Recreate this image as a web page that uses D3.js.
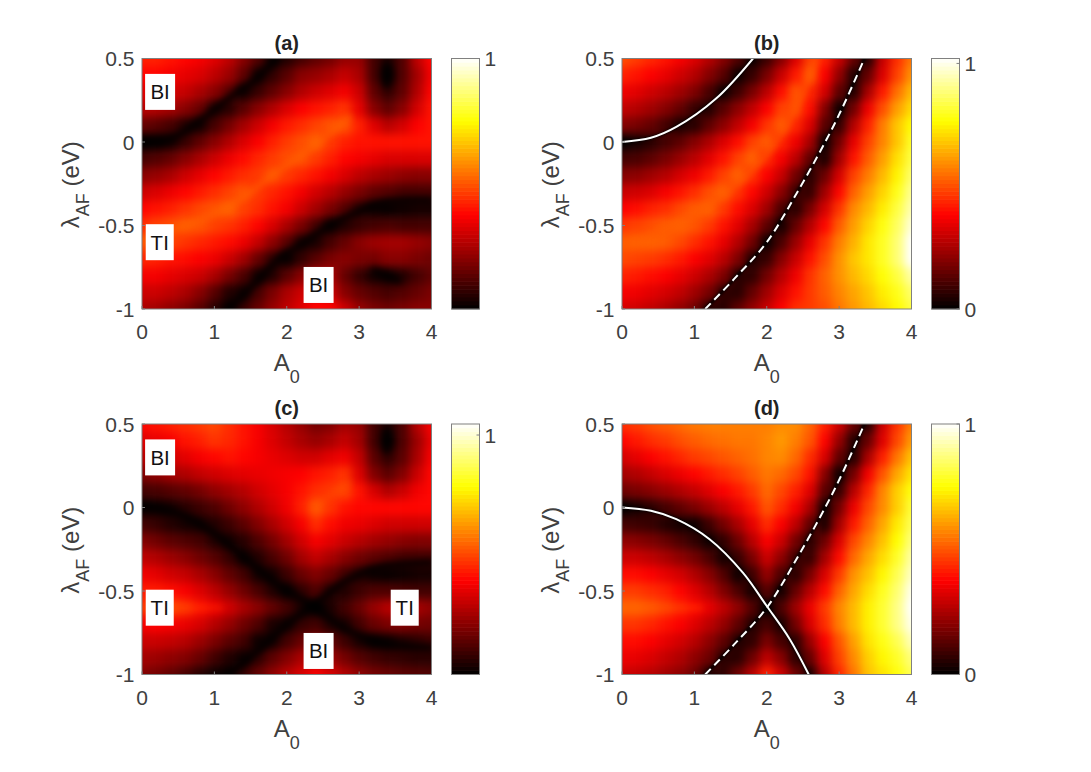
<!DOCTYPE html>
<html><head><meta charset="utf-8">
<script src="https://cdn.jsdelivr.net/npm/d3@7"></script>
<style>html,body{margin:0;padding:0;background:#fff}svg{display:block}text{font-family:"Liberation Sans",Arial,sans-serif;fill:#404040}</style>
</head><body><svg id="c" width="1091" height="772"></svg>
<script>
const amplitudes=[0,.2,.4,.6,.8,1,1.2,1.4,1.6,1.8,2,2.2,2.4,2.6,2.8,3,3.2,3.4,3.6,3.8,4];
const lambdas=[.5,.4,.3,.2,.1,0,-.1,-.2,-.3,-.4,-.5,-.6,-.7,-.8,-.9,-1];
const xTicks=[0,1,2,3,4];
const yTicks=[.5,0,-.5,-1];
const yTickLabels=["0.5","0","-0.5","-1"];
const gridA=[
[.42,.42,.40,.38,.36,.33,.28,.2,.12,.02,.05,.1,.14,.17,.22,.22,.1,.04,.12,.28,.38],
[.38,.38,.36,.34,.32,.28,.23,.14,.03,.07,.13,.2,.22,.25,.29,.25,.1,0,.12,.24,.36],
[.33,.33,.31,.29,.25,.2,.13,.03,.08,.14,.2,.26,.3,.33,.36,.3,.14,.07,.14,.26,.38],
[.27,.26,.24,.2,.15,.05,.06,.13,.2,.26,.32,.37,.4,.42,.45,.34,.2,.14,.2,.31,.4],
[.15,.13,.1,.05,.03,.1,.17,.24,.3,.36,.41,.44,.47,.5,.5,.42,.33,.27,.31,.37,.4],
[0,.01,.03,.08,.14,.2,.26,.32,.37,.42,.46,.49,.52,.46,.42,.4,.4,.4,.4,.4,.4],
[.1,.12,.15,.2,.25,.3,.35,.39,.43,.46,.49,.5,.46,.42,.38,.36,.34,.32,.32,.32,.32],
[.2,.22,.25,.3,.34,.38,.41,.44,.46,.5,.46,.43,.4,.36,.32,.28,.25,.23,.21,.2,.2],
[.3,.32,.35,.38,.41,.44,.47,.5,.46,.43,.4,.36,.31,.27,.22,.18,.14,.12,.1,.1,.1],
[.38,.4,.42,.45,.48,.5,.52,.47,.44,.4,.36,.3,.24,.18,.12,.06,.02,.01,.02,.03,.03],
[.44,.47,.49,.51,.5,.47,.45,.42,.38,.32,.25,.18,.1,.02,.05,.08,.1,.11,.1,.1,.1],
[.5,.5,.47,.45,.43,.41,.39,.35,.29,.21,.13,.04,.04,.1,.15,.2,.23,.24,.24,.22,.2],
[.43,.42,.4,.39,.37,.35,.3,.24,.15,.07,.01,.07,.13,.18,.2,.18,.17,.2,.2,.18,.16],
[.36,.36,.34,.32,.3,.25,.18,.11,.03,.05,.13,.2,.26,.25,.15,.08,.03,.02,.05,.1,.14],
[.3,.3,.28,.25,.2,.13,.05,.03,.1,.18,.25,.3,.34,.3,.2,.15,.12,.1,.12,.15,.18],
[.25,.24,.21,.18,.13,.06,.01,.08,.15,.22,.28,.33,.38,.38,.3,.22,.18,.16,.18,.2,.2]];
const gridB=[
[.5,.47,.44,.41,.37,.33,.27,.2,.12,.02,.09,.2,.33,.48,.43,.3,.15,.05,.3,.45,.56],
[.43,.41,.38,.35,.31,.27,.2,.13,.02,.08,.18,.3,.42,.52,.38,.22,.05,.15,.33,.48,.6],
[.36,.34,.31,.28,.24,.19,.11,.02,.09,.18,.28,.4,.51,.44,.32,.14,.05,.25,.42,.55,.66],
[.29,.27,.24,.2,.15,.08,.05,.13,.21,.29,.38,.48,.5,.4,.2,.02,.17,.36,.5,.62,.71],
[.2,.18,.15,.1,.04,.06,.14,.21,.29,.37,.46,.52,.44,.33,.13,.07,.27,.43,.57,.68,.76],
[0,.03,.06,.1,.14,.2,.26,.33,.4,.48,.52,.44,.36,.25,.02,.17,.35,.48,.58,.68,.8],
[.1,.11,.14,.18,.23,.28,.34,.41,.48,.53,.45,.37,.28,.14,.04,.24,.41,.52,.62,.72,.83],
[.2,.21,.24,.27,.32,.36,.42,.48,.53,.46,.38,.3,.17,.06,.16,.32,.48,.57,.66,.75,.87],
[.3,.31,.33,.37,.41,.45,.5,.53,.46,.39,.31,.21,.09,.08,.24,.39,.53,.62,.7,.79,.91],
[.38,.4,.43,.45,.49,.52,.53,.47,.4,.33,.24,.11,.06,.18,.32,.46,.59,.66,.74,.83,.94],
[.46,.48,.5,.52,.53,.51,.47,.41,.34,.25,.14,.03,.15,.27,.39,.52,.62,.7,.78,.86,.98],
[.52,.53,.53,.52,.49,.45,.41,.35,.27,.17,.02,.11,.23,.35,.46,.57,.65,.73,.8,.88,1.02],
[.49,.48,.47,.45,.42,.38,.34,.28,.19,.05,.08,.2,.3,.41,.5,.6,.68,.73,.8,.88,1.02],
[.43,.42,.4,.38,.35,.31,.26,.19,.06,.07,.17,.27,.36,.46,.53,.6,.66,.71,.77,.83,.93],
[.37,.36,.34,.32,.29,.24,.18,.07,.06,.15,.24,.33,.41,.47,.52,.58,.63,.68,.74,.79,.87],
[.32,.31,.29,.26,.22,.17,.06,.06,.14,.22,.3,.38,.45,.47,.5,.56,.61,.66,.71,.76,.83]];
const gridC=[
[.4,.42,.44,.46,.48,.5,.46,.42,.38,.33,.28,.23,.18,.2,.25,.23,.1,.04,.12,.28,.38],
[.34,.36,.38,.42,.44,.47,.45,.42,.38,.34,.3,.26,.23,.26,.3,.25,.1,0,.12,.24,.36],
[.28,.3,.32,.35,.38,.4,.42,.4,.38,.36,.34,.32,.32,.35,.37,.3,.14,.07,.14,.26,.38],
[.2,.22,.25,.27,.3,.32,.34,.35,.36,.37,.38,.39,.42,.44,.47,.34,.2,.14,.2,.31,.4],
[.1,.11,.13,.15,.18,.22,.25,.28,.32,.35,.38,.42,.46,.48,.5,.42,.33,.27,.31,.37,.4],
[.01,.02,.03,.06,.09,.12,.17,.22,.27,.32,.37,.44,.53,.47,.42,.4,.4,.4,.4,.4,.4],
[.1,.08,.05,.03,.03,.05,.09,.14,.2,.26,.32,.38,.46,.41,.37,.36,.34,.32,.32,.32,.32],
[.2,.17,.14,.12,.1,.05,.03,.06,.12,.18,.25,.32,.38,.35,.31,.28,.25,.23,.21,.2,.2],
[.29,.27,.24,.21,.17,.13,.08,.02,.05,.11,.17,.25,.3,.26,.21,.17,.14,.12,.1,.1,.1],
[.37,.35,.32,.3,.26,.21,.15,.1,.03,.03,.09,.16,.2,.16,.1,.06,.02,.01,.02,.03,.03],
[.43,.43,.41,.38,.34,.29,.23,.17,.11,.05,.01,.07,.12,.06,.05,.09,.12,.12,.11,.1,.1],
[.47,.49,.5,.47,.42,.37,.32,.26,.21,.15,.1,.04,0,.04,.1,.16,.23,.28,.28,.25,.22],
[.38,.39,.38,.36,.33,.28,.23,.17,.12,.04,.03,.08,.1,.05,.04,.1,.16,.19,.2,.18,.17],
[.31,.31,.3,.28,.24,.19,.14,.1,.02,.03,.1,.16,.2,.15,.09,.04,.01,.02,.05,.07,.09],
[.25,.24,.22,.2,.16,.1,.05,.02,.07,.14,.2,.26,.29,.24,.18,.13,.1,.08,.07,.06,.06],
[.2,.18,.15,.11,.06,.02,.01,.08,.15,.22,.28,.33,.38,.33,.27,.22,.18,.16,.14,.13,.12]];
const gridD=[
[.44,.46,.49,.51,.53,.55,.56,.56,.56,.56,.56,.58,.58,.52,.42,.3,.15,.05,.3,.45,.56],
[.38,.41,.44,.46,.49,.51,.53,.54,.55,.55,.57,.6,.56,.5,.38,.22,.05,.15,.33,.48,.6],
[.31,.34,.37,.4,.43,.46,.48,.5,.52,.54,.57,.58,.53,.44,.32,.14,.05,.25,.42,.55,.66],
[.24,.26,.29,.32,.35,.38,.41,.44,.47,.51,.55,.53,.48,.4,.2,.02,.17,.36,.5,.62,.71],
[.16,.18,.2,.23,.26,.29,.33,.37,.41,.46,.53,.48,.42,.33,.13,.07,.27,.43,.57,.68,.76],
[0,.03,.06,.1,.14,.18,.23,.28,.34,.41,.5,.44,.36,.25,.02,.17,.35,.48,.58,.68,.8],
[.1,.09,.08,.05,.03,.02,.09,.17,.25,.34,.44,.37,.28,.14,.04,.24,.41,.52,.62,.72,.83],
[.21,.2,.18,.15,.11,.07,.02,.07,.16,.27,.37,.3,.17,.06,.16,.32,.48,.57,.66,.75,.87],
[.3,.3,.28,.25,.21,.17,.11,.03,.08,.18,.3,.21,.09,.08,.24,.39,.53,.62,.7,.79,.91],
[.39,.39,.37,.34,.31,.26,.2,.12,.02,.09,.22,.11,.06,.18,.32,.46,.59,.66,.74,.83,.94],
[.46,.46,.44,.42,.38,.33,.27,.19,.11,.03,.13,.03,.15,.27,.39,.52,.62,.7,.78,.86,.98],
[.52,.52,.5,.47,.43,.39,.34,.28,.21,.12,0,.11,.23,.35,.46,.57,.65,.73,.8,.88,1],
[.45,.45,.43,.4,.37,.33,.28,.22,.14,.05,.1,.04,.17,.32,.44,.56,.65,.73,.8,.88,.98],
[.39,.39,.37,.34,.31,.27,.21,.14,.05,.07,.18,.1,.06,.23,.37,.5,.61,.71,.77,.83,.93],
[.35,.34,.32,.29,.26,.21,.16,.06,.06,.16,.28,.2,.06,.15,.33,.47,.58,.68,.74,.79,.87],
[.3,.29,.27,.24,.21,.16,.05,.07,.16,.27,.42,.3,.16,.04,.27,.43,.55,.66,.71,.76,.83]];
const solidB=[[0,0],[.4,.025],[.75,.09],[1.3,.26],[1.81,.5]];
const dashedLine=[[1.15,-1],[1.55,-.82],[2,-.6],[2.41,-.31],[2.82,.01],[3.05,.21],[3.35,.5]];
const solidD=[[0,0],[.4,-.02],[.75,-.07],[1.21,-.19],[1.67,-.39],[2,-.59],[2.32,-.79],[2.58,-1]];
const minimaA1=[[0,0],[.4,.02],[.75,.11],[1.2,.26],[1.53,.36],[1.86,.5]];
const minimaA2=[[1.2,-1],[1.55,-.85],[1.9,-.7],[2.25,-.6],[2.6,-.5],[3.3,-.37],[4,-.35]];
const pitUpper=[[3.38,.46],[3.38,.34]];
const pitLower=[[3.2,-.77],[3.55,-.83]];
const minimaC1=[[0,.01],[.52,-.04],[.98,-.15],[1.44,-.31],[1.9,-.47],[2.36,-.59],[2.82,-.73],[3.29,-.81],[4,-.84]];
const minimaC2=[[1.2,-1],[1.67,-.83],[2.03,-.69],[2.36,-.59],[2.82,-.44],[3.29,-.36],[4,-.33]];
const ridgeA=[[0,-.59],[.6,-.5],[1.2,-.39],[1.8,-.2],[2.36,-.03],[2.87,.15]];
const ridgeB=[[0,-.63],[.6,-.52],[1.3,-.35],[2,-.07],[2.4,.2],[2.69,.5]];
const ridgeC1=[[0,-.6],[1.1,-.6]];
const ridgeC2=[[2.36,0],[2.87,.15]];
const ridgeD=[[0,-.6],[1.1,-.6]];
const panelTitles=["(a)","(b)","(c)","(d)"];
const panelLabels=[
 [["BI",.25,.3],["TI",.245,-.6],["BI",2.44,-.856]],
 [],
 [["BI",.25,.3],["TI",.245,-.6],["TI",3.63,-.6],["BI",2.44,-.859]],
 []];
const colorbarMax=[1,1.02,1.046,1];
const colorbarTicks=[[1],[0,1],[1],[0,1]];

const hot=t=>{t=Math.max(0,Math.min(1,t));
 const r=Math.min(1,t/.375),g=Math.max(0,Math.min(1,(t-.375)/.375)),b=Math.max(0,(t-.75)/.25);
 return d3.rgb(r*255,g*255,b*255).formatHex();};
const svg=d3.select("#c");
const defs=svg.append("defs");
[["soft",5],["softA",3.6],["softB",1.6],["softR",3]].forEach(([id,s])=>{
 const f=defs.append("filter").attr("id",id).attr("filterUnits","userSpaceOnUse").attr("x",-100).attr("y",-100).attr("width",1291).attr("height",972).attr("color-interpolation-filters","sRGB");
 f.append("feGaussianBlur").attr("stdDeviation",s);
});
const W=289.5,H=250.5,left=[142,622],top_=[58.5,424];
const grids=[gridA,gridB,gridC,gridD];
const lines=[[],[{d:solidB},{d:dashedLine,dash:"8 5"}],[],[{d:solidD},{d:dashedLine,dash:"8 5"}]];
const minima=[[minimaA1,minimaA2,pitUpper,pitLower],[solidB,dashedLine],[minimaC1,minimaC2,pitUpper],[solidD,dashedLine]];
const minimaStyle=[["softA",6],["softB",3],["softA",6],["softB",3]];
const ridges=[[ridgeA],[ridgeB],[ridgeC1,ridgeC2],[ridgeD]];
const ridgeOpacity=[.7,.7,.35,.35];
const box="#808080";
grids.forEach((grid,p)=>{
 const ox=left[p%2],oy=top_[Math.floor(p/2)];
 const g=svg.append("g").attr("transform",`translate(${ox},${oy})`);
 const x=d3.scaleLinear().domain([0,4]).range([0,W]);
 const y=d3.scaleLinear().domain([-1,.5]).range([H,0]);
 const color=v=>hot(v/colorbarMax[p]);
 defs.append("clipPath").attr("id","cp"+p).append("rect").attr("width",W).attr("height",H);
 const dx=x(amplitudes[1])-x(amplitudes[0]),dy=y(lambdas[1])-y(lambdas[0]);
 const plot=g.append("g").attr("clip-path",`url(#cp${p})`);
 const cells=plot.append("g").attr("filter","url(#soft)");
 const pad=30;
 grid.forEach((row,j)=>row.forEach((v,i)=>{
  let x0=x(amplitudes[i])-dx/2,x1=x0+dx,y0=y(lambdas[j])-dy/2,y1=y0+dy;
  if(i===0)x0-=pad; if(i===row.length-1)x1+=pad; if(j===0)y0-=pad; if(j===grid.length-1)y1+=pad;
  cells.append("rect").attr("x",x0).attr("y",y0).attr("width",x1-x0+.5).attr("height",y1-y0+.5).attr("fill",color(v));
 }));
 const ln=d3.line().x(d=>x(d[0])).y(d=>y(d[1])).curve(d3.curveCatmullRom);
 const rg=plot.append("g").attr("filter","url(#softR)").attr("opacity",ridgeOpacity[p]);
 ridges[p].forEach(r=>rg.append("path").attr("d",ln(r)).attr("fill","none").attr("stroke",color(.52)).attr("stroke-width",4).attr("stroke-linecap","round"));
 const mg=plot.append("g").attr("filter",`url(#${minimaStyle[p][0]})`);
 minima[p].forEach(m=>mg.append("path").attr("d",ln(m)).attr("fill","none").attr("stroke","#000").attr("stroke-width",minimaStyle[p][1]).attr("stroke-linecap","round"));
 lines[p].forEach(l=>plot.append("path").attr("d",ln(l.d)).attr("fill","none").attr("stroke","#fff").attr("stroke-width",2).attr("stroke-dasharray",l.dash||null));
 panelLabels[p].forEach(([t,a,b])=>{
  const lg2=g.append("g").attr("transform",`translate(${x(a)},${y(b)})`);
  const w=t==="BI"?30:28;
  lg2.append("rect").attr("x",-w/2).attr("y",-18).attr("width",w).attr("height",36).attr("fill","#fff");
  lg2.append("text").attr("text-anchor","middle").attr("y",7.5).attr("font-size",20.5).style("fill","#111").text(t);
 });
 g.append("rect").attr("width",W).attr("height",H).attr("fill","none").attr("stroke",box).attr("stroke-width",1);
 xTicks.forEach(t=>{
  g.append("line").attr("x1",x(t)).attr("x2",x(t)).attr("y1",H).attr("y2",H-3).attr("stroke",box);
  g.append("text").attr("x",x(t)).attr("y",H+30).attr("text-anchor","middle").attr("font-size",21).text(t);
 });
 yTicks.forEach((t,i)=>{
  g.append("line").attr("x1",0).attr("x2",3).attr("y1",y(t)).attr("y2",y(t)).attr("stroke",box);
  g.append("text").attr("x",-7.5).attr("y",y(t)+7.5).attr("text-anchor","end").attr("font-size",21).text(yTickLabels[i]);
 });
 g.append("text").attr("x",W/2).attr("y",-9).attr("text-anchor","middle").attr("font-size",20).attr("font-weight","bold").style("fill","#222").text(panelTitles[p]);
 const xl=g.append("text").attr("x",W/2).attr("y",H+62).attr("text-anchor","middle").attr("font-size",24);
 xl.append("tspan").text("A");
 xl.append("tspan").attr("dy",12).attr("font-size",18).text("0");
 const yl=g.append("text").attr("transform",`translate(-63.5,${H/2+1}) rotate(-90)`).attr("text-anchor","middle").attr("font-size",24);
 yl.append("tspan").text("λ");
 yl.append("tspan").attr("dy",10).attr("font-size",18).text("AF");
 yl.append("tspan").attr("dy",-10).text(" (eV)");
 const cbx=W+20,cbw=28;
 const cy=d3.scaleLinear().domain([0,colorbarMax[p]]).range([H,0]);
 const steps=d3.range(64).map(k=>k/64*colorbarMax[p]);
 const cb=g.append("g").attr("transform",`translate(${cbx},0)`);
 const sh=H/64;
 steps.forEach(s=>cb.append("rect").attr("x",0).attr("width",cbw).attr("y",cy(s)-sh-.3).attr("height",sh+.6).attr("fill",hot((s+colorbarMax[p]/128)/colorbarMax[p])));
 cb.append("rect").attr("width",cbw).attr("height",H).attr("fill","none").attr("stroke",box);
 colorbarTicks[p].forEach(t=>{
  cb.append("line").attr("x1",cbw-3).attr("x2",cbw).attr("y1",cy(t)).attr("y2",cy(t)).attr("stroke",box);
  cb.append("text").attr("x",cbw+5).attr("y",cy(t)+7.5).attr("font-size",21).text(t);
 });
});
</script></body></html>
